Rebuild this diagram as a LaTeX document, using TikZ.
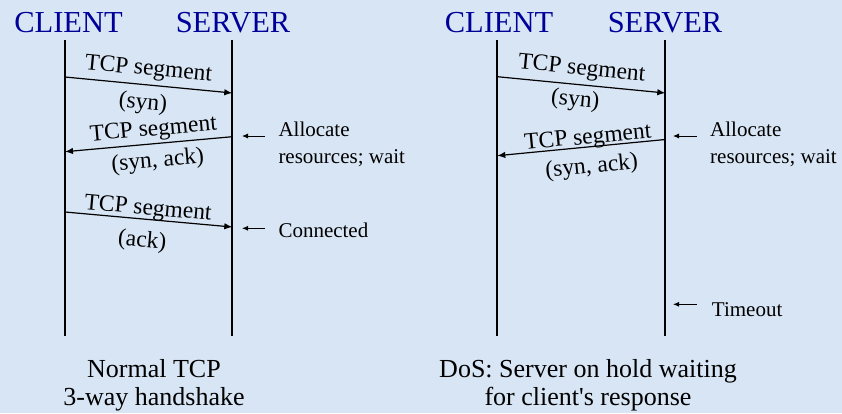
\documentclass[tikz,border=0pt]{standalone}
\usepackage{fontspec}
\setmainfont{Liberation Serif}
\usetikzlibrary{arrows.meta,positioning}
\definecolor{slideblue}{RGB}{216,229,244}
\definecolor{titleblue}{RGB}{0,0,153}

\begin{document}
\begin{tikzpicture}[
    x=1pt, y=-1pt,
    role/.style={font=\fontsize{30.5}{30.5}\selectfont, text=titleblue, inner sep=0pt, anchor=base},
    life/.style={line width=2pt},
    msg/.style={-{Latex[length=8pt,width=6.5pt]}, line width=1.2pt},
    seg/.style={font=\fontsize{23.5}{23.5}\selectfont, inner sep=1pt, sloped},
    note/.style={font=\fontsize{21}{27.5}\selectfont, align=left, inner sep=0pt, anchor=north west},
    tick/.style={-{Latex[length=6pt,width=5pt]}, line width=0.9pt},
    caption/.style={font=\fontsize{26}{28.5}\selectfont, align=center, inner sep=0pt, anchor=north}
]
\fill[slideblue] (0,0) rectangle (842,413);
\useasboundingbox (0,0) rectangle (842,413);

% Normal handshake
\node[role] (cl1) at (68.5,32.3) {CLIENT};
\node[role] (sv1) at (233,32.3) {SERVER};
\coordinate (cl1t) at (65,40);
\coordinate (cl1b) at (65,336);
\coordinate (sv1t) at (232.3,40);
\coordinate (sv1b) at (232.3,336);
\draw[life] (cl1t) -- (cl1b);
\draw[life] (sv1t) -- (sv1b);

\coordinate (syn1a) at (65,77);
\coordinate (syn1b) at (232.3,93);
\coordinate (sa1a) at (232.3,136.7);
\coordinate (sa1b) at (65,151.7);
\coordinate (ack1a) at (65,212);
\coordinate (ack1b) at (232.3,227);

\draw[msg] (syn1a) -- node[seg, above=3pt, xshift=-1.5pt] (syn1t) {TCP segment}
    node[seg, below=6.5pt, xshift=-4pt] (syn1l) {(syn)} (syn1b);
\draw[msg] (sa1a) -- node[seg, above=1.5pt, xshift=6pt] (sa1t) {TCP segment}
    node[seg, below=6pt, xshift=7.5pt] (sa1l) {(syn, ack)} (sa1b);
\draw[msg] (ack1a) -- node[seg, above=-2pt, xshift=-1.5pt] (ack1t) {TCP segment}
    node[seg, below=10pt, xshift=-4.5pt] (ack1l) {(ack)} (ack1b);

\node[note] (alloc1) at (278.3,121.3) {Allocate\\resources; wait};
\coordinate (alloc1in) at (265,136);
\coordinate (alloc1tip) at (242,136);
\draw[tick] (alloc1in) -- (alloc1tip);

\node[note] (conn1) at (278.3,222.4) {Connected};
\coordinate (conn1in) at (265,228.3);
\coordinate (conn1tip) at (242,228.3);
\draw[tick] (conn1in) -- (conn1tip);

\node[caption] (cap1) at (154,359.2) {Normal TCP\\3-way handshake};

% DoS
\node[role] (cl2) at (499,32.3) {CLIENT};
\node[role] (sv2) at (665,32.3) {SERVER};
\coordinate (cl2t) at (497.3,40);
\coordinate (cl2b) at (497.3,336);
\coordinate (sv2t) at (665.3,40);
\coordinate (sv2b) at (665.3,336);
\draw[life] (cl2t) -- (cl2b);
\draw[life] (sv2t) -- (sv2b);

\coordinate (syn2a) at (497.3,76.7);
\coordinate (syn2b) at (665.3,93);
\coordinate (sa2a) at (665.3,139.5);
\coordinate (sa2b) at (497.3,155.7);

\draw[msg] (syn2a) -- node[seg, above=3.5pt, xshift=-1pt] (syn2t) {TCP segment}
    node[seg, below=4pt, xshift=-4.5pt] (syn2l) {(syn)} (syn2b);
\draw[msg] (sa2a) -- node[seg, above=-3.5pt, xshift=7.5pt] (sa2t) {TCP segment}
    node[seg, below=8pt, xshift=8.5pt] (sa2l) {(syn, ack)} (sa2b);

\node[note] (alloc2) at (710,121.7) {Allocate\\resources; wait};
\coordinate (alloc2in) at (697,136);
\coordinate (alloc2tip) at (673,136);
\draw[tick] (alloc2in) -- (alloc2tip);

\node[note] (tout2) at (711.7,302.1) {Timeout};
\coordinate (tout2in) at (697,304.3);
\coordinate (tout2tip) at (673,304.3);
\draw[tick] (tout2in) -- (tout2tip);

\node[caption] (cap2) at (588,359) {DoS: Server on hold waiting\\for client\textquotesingle s response};
\end{tikzpicture}
\end{document}
